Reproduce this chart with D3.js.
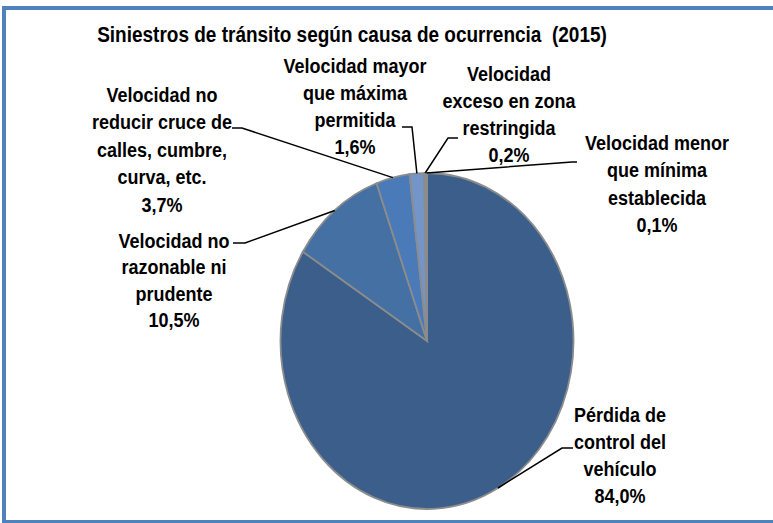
<!DOCTYPE html>
<html>
<head>
<meta charset="utf-8">
<script src="https://cdn.jsdelivr.net/npm/d3@7"></script>
<style>
  html, body { margin: 0; padding: 0; background: #fff; }
  svg { display: block; }
  text { font-family: "Liberation Sans", Arial, sans-serif; font-weight: bold; fill: #000; }
</style>
</head>
<body>
<svg></svg>
<script>
const title = "Siniestros de tránsito según causa de ocurrencia  (2015)";

const categories = [
  "Pérdida de control del vehículo",
  "Velocidad no razonable ni prudente",
  "Velocidad no reducir cruce de calles, cumbre, curva, etc.",
  "Velocidad mayor que máxima permitida",
  "Velocidad exceso en zona restringida",
  "Velocidad menor que mínima establecida",
];
const values = [84.0, 10.5, 3.7, 1.6, 0.2, 0.1];
const valueLabels = ["84,0%", "10,5%", "3,7%", "1,6%", "0,2%", "0,1%"];

// how each category label wraps
const labelLines = [
  ["Pérdida de", "control del", "vehículo"],
  ["Velocidad no", "razonable ni", "prudente"],
  ["Velocidad no", "reducir cruce de", "calles, cumbre,", "curva, etc."],
  ["Velocidad mayor", "que máxima", "permitida"],
  ["Velocidad", "exceso en zona", "restringida"],
  ["Velocidad menor", "que mínima", "establecida"],
];

const colors = ["#3b5e8a", "#4470a3", "#4a7ab8", "#7395c8", "#9fb4d8", "#bccbe5"];

const width = 773;
const height = 523;
const cx = 427;
const cy = 341;
const rx = 146.5;
const ry = 168;
const sy = ry / rx;
const textSy = 1.14;

// label placement: text centre x, first baseline, line step, elbow and end of leader
const labelLayout = [
  { x: 620, y: 422, step: 27, elbow: [562, 448], end: 573 },
  { x: 174, y: 248, step: 26.5, elbow: [245, 243], end: 233 },
  { x: 162, y: 102, step: 27.5, elbow: [242, 128], end: 232 },
  { x: 355, y: 73, step: 27, elbow: [412, 127], end: 402 },
  { x: 509, y: 81, step: 27, elbow: [448, 138], end: 458 },
  { x: 657, y: 150, step: 27.3, elbow: [572, 162], end: 577 },
];

const svg = d3.select("svg").attr("width", width).attr("height", height);

svg.append("rect")
  .attr("width", width).attr("height", height)
  .attr("fill", "#fff");

svg.append("rect")
  .attr("x", 4).attr("y", 8)
  .attr("width", 820).attr("height", 514)
  .attr("fill", "none")
  .attr("stroke", "#4f81bd")
  .attr("stroke-width", 4);

svg.append("text")
  .attr("transform", `translate(352, 42) scale(1, ${textSy})`)
  .attr("text-anchor", "middle")
  .attr("font-size", 19)
  .attr("xml:space", "preserve")
  .text(title);

const pie = d3.pie().sort(null).value((d) => d);
const arcs = pie(values);
const arc = d3.arc().innerRadius(0).outerRadius(rx);

svg.append("g")
  .attr("transform", `translate(${cx}, ${cy}) scale(1, ${sy})`)
  .selectAll("path")
  .data(arcs)
  .enter()
  .append("path")
  .attr("d", arc)
  .attr("fill", (d, i) => colors[i])
  .attr("stroke", "#8c8c8c")
  .attr("stroke-width", 1.8)
  .attr("vector-effect", "non-scaling-stroke");

// leader lines from the slice edge
const edgePoint = (d) => {
  const a = (d.startAngle + d.endAngle) / 2;
  return [cx + rx * Math.sin(a), cy - ry * Math.cos(a)];
};

svg.append("g")
  .selectAll("polyline")
  .data(arcs)
  .enter()
  .append("polyline")
  .attr("points", (d, i) => {
    const p = edgePoint(d);
    const l = labelLayout[i];
    return [p, l.elbow, [l.end, l.elbow[1]]].map((q) => q.join(",")).join(" ");
  })
  .attr("fill", "none")
  .attr("stroke", "#000")
  .attr("stroke-width", 1.5);

const labels = svg.append("g")
  .selectAll("text")
  .data(arcs)
  .enter()
  .append("text")
  .attr("transform", (d, i) => `translate(${labelLayout[i].x}, ${labelLayout[i].y}) scale(1, ${textSy})`)
  .attr("text-anchor", "middle")
  .attr("font-size", 18);

labels.each(function (d, i) {
  const lines = labelLines[i].concat([valueLabels[i]]);
  const step = labelLayout[i].step / textSy;
  d3.select(this)
    .selectAll("tspan")
    .data(lines)
    .enter()
    .append("tspan")
    .attr("x", 0)
    .attr("y", (t, j) => j * step)
    .text((t) => t);
});
</script>
</body>
</html>
